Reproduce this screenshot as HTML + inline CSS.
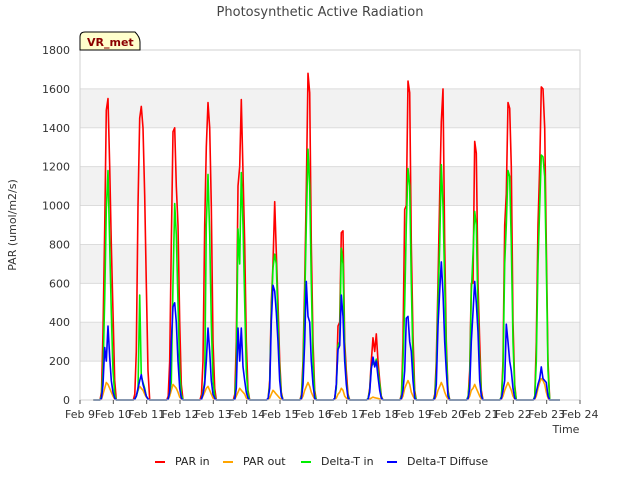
<!DOCTYPE html>
<html><head><meta charset="utf-8"><style>
body{margin:0;background:#fff;font-family:"DejaVu Sans","Liberation Sans",sans-serif;}
svg text{font-family:"DejaVu Sans","Liberation Sans",sans-serif;}
</style></head><body>
<svg id="chart" width="640" height="480" xmlns="http://www.w3.org/2000/svg">
<rect width="640" height="480" fill="#fff"/>
<text x="320" y="16" text-anchor="middle" font-size="13" fill="#444">Photosynthetic Active Radiation</text>
<g id="grid"></g>
<g id="series"></g>
<g id="axes"></g>
<text x="16" y="225" transform="rotate(-90 16 225)" text-anchor="middle" font-size="11" fill="#333">PAR (umol/m2/s)</text>
<text x="566" y="433" text-anchor="middle" font-size="11" fill="#333">Time</text>
<g>
<path d="M80,50 L80,37 Q80,32 85,32 L135,32 Q140,37 140,42 L140,50 Z" fill="#ffffcc" stroke="#000" stroke-width="1"/>
<text x="87" y="46" font-size="11" font-weight="bold" fill="#8b0000">VR_met</text>
</g>
<g id="legend"></g>
</svg>
<script>
const yTicks=[0,200,400,600,800,1000,1200,1400,1600,1800];
const xTickLabels=["Feb 9","Feb 10","Feb 11","Feb 12","Feb 13","Feb 14","Feb 15","Feb 16","Feb 17","Feb 18","Feb 19","Feb 20","Feb 21","Feb 22","Feb 23","Feb 24"];
const sampleOffsets=[0.60,0.645,0.69,0.74,0.79,0.84,0.89,0.94,0.99,1.04,1.09];
const parIn=[
[0,40,350,880,1490,1550,1200,800,450,100,0],
[0,30,250,1000,1450,1510,1400,1050,600,150,0],
[0,20,200,800,1380,1400,1100,900,400,80,0],
[0,30,200,900,1300,1530,1400,1000,300,60,0],
[0,30,300,1100,1200,1545,1170,800,300,50,0],
[0,10,100,500,700,1020,760,500,200,40,0],
[0,30,200,600,1080,1680,1580,800,300,50,0],
[0,10,80,380,400,860,870,300,150,30,0],
[0,10,60,200,320,250,340,200,100,20,0],
[0,30,300,980,1000,1640,1580,800,330,50,0],
[0,30,200,600,1050,1430,1600,800,300,50,0],
[0,20,150,600,600,1330,1270,600,300,50,0],
[0,20,200,900,1060,1530,1500,1200,400,80,0],
[0,20,300,900,1200,1610,1600,1400,800,200,0]];
const parOut=[
[0,5,30,60,90,80,60,40,20,5,0],
[0,5,20,50,70,60,50,30,15,5,0],
[0,5,20,50,80,70,60,40,15,5,0],
[0,5,20,40,60,70,50,30,10,5,0],
[0,5,20,40,60,50,40,30,10,5,0],
[0,5,10,30,50,40,30,20,10,5,0],
[0,5,20,50,70,90,70,40,20,5,0],
[0,5,10,30,40,60,50,20,10,5,0],
[0,2,5,10,15,12,10,8,5,2,0],
[0,5,20,60,80,100,80,40,20,5,0],
[0,5,20,50,70,90,70,40,20,5,0],
[0,5,20,50,60,80,60,40,20,5,0],
[0,5,20,50,70,90,70,50,20,5,0],
[0,5,20,60,90,110,100,80,40,10,0]];
const deltaIn=[
[0,20,150,520,980,1180,800,450,150,30,0],
[0,5,20,50,540,120,90,60,20,5,0],
[0,5,40,90,600,1010,850,500,150,30,0],
[0,5,40,100,900,1160,850,400,100,20,0],
[0,10,150,880,700,1170,900,500,150,30,0],
[0,10,80,450,680,750,700,400,150,30,0],
[0,20,150,500,900,1290,1100,600,200,30,0],
[0,10,60,280,300,780,700,250,100,20,0],
[0,10,50,170,190,180,210,150,80,15,0],
[0,20,200,490,900,1190,1100,600,200,30,0],
[0,20,150,500,800,1210,1000,600,250,40,0],
[0,20,100,550,750,970,900,450,200,30,0],
[0,20,150,700,900,1180,1150,800,300,60,0],
[0,20,200,700,1000,1260,1250,1150,700,150,0]];
const deltaDiff=[
[0,10,80,270,200,380,220,100,40,10,0],
[0,5,20,60,100,130,80,50,20,5,0],
[0,5,40,300,480,500,400,200,60,10,0],
[0,5,30,80,200,370,250,100,30,10,0],
[0,5,60,370,200,370,170,100,40,10,0],
[0,10,60,400,590,560,450,300,100,20,0],
[0,10,80,300,610,430,400,200,80,10,0],
[0,10,80,260,280,540,430,200,80,10,0],
[0,5,40,160,220,170,200,120,50,10,0],
[0,10,50,150,420,430,300,250,100,10,0],
[0,10,80,380,560,710,550,300,150,20,0],
[0,10,60,300,450,610,500,350,100,20,0],
[0,10,50,100,390,300,200,150,60,10,0],
[0,10,40,80,110,170,110,100,90,20,0]];
const X0=80,X1=580,Y0=400,Y1=50;
function xs(t){return X0+t*(X1-X0)/15;}
function ys(v){return Y0-v*(Y0-Y1)/1800;}
const NS="http://www.w3.org/2000/svg";
function mk(tag,attrs,parent){const e=document.createElementNS(NS,tag);for(const k in attrs)e.setAttribute(k,attrs[k]);parent.appendChild(e);return e;}
const grid=document.getElementById('grid'),axes=document.getElementById('axes'),ser=document.getElementById('series'),leg=document.getElementById('legend');
for(let i=0;i<yTicks.length-1;i++){
  if(i%2===1){const b=mk('rect',{x:X0,y:ys(yTicks[i+1]),width:X1-X0,height:ys(yTicks[i])-ys(yTicks[i+1]),fill:'#f2f2f2'},grid);
  
  }
}
yTicks.forEach(v=>{
  const l=mk('line',{x1:X0,x2:X1,y1:ys(v),y2:ys(v),stroke:'#dcdcdc','stroke-width':1},grid);
  
  
  const t=mk('text',{x:X0-10,y:ys(v)+4,'text-anchor':'end','font-size':11,fill:'#333'},axes);
  t.textContent=v;
  
  
});
const fr=mk('rect',{x:X0,y:Y1,width:X1-X0,height:Y0-Y1,fill:'none',stroke:'#d0d0d0'},axes);


xTickLabels.forEach((s,i)=>{
  const tk=mk('line',{x1:xs(i),x2:xs(i),y1:Y0,y2:Y0+4,stroke:'#555'},axes);
  
  
  const t=mk('text',{x:xs(i),y:Y0+18,'text-anchor':'middle','font-size':11,fill:'#333'},axes);
  t.textContent=s;
  
  
});
function drawSeries(data,color,name){
  let pts=[];
  pts.push([xs(0.4),ys(0)]);
  data.forEach((day,d)=>{day.forEach((v,i)=>pts.push([xs(d+sampleOffsets[i]),ys(v)]));});
  pts.push([xs(14.4),ys(0)]);
  const p=mk('polyline',{points:pts.map(p=>p[0].toFixed(1)+','+p[1].toFixed(1)).join(' '),fill:'none',stroke:color,'stroke-width':1.6,'stroke-linejoin':'round'},ser);
  
  
}
drawSeries(parIn,'#ff0000','par-in-line');
drawSeries(parOut,'#ffa500','par-out-line');
drawSeries(deltaIn,'#00ee00','delta-t-in-line');
drawSeries(deltaDiff,'#0000ff','delta-t-diffuse-line');
const legItems=[["PAR in","#ff0000",155],["PAR out","#ffa500",223],["Delta-T in","#00ee00",301],["Delta-T Diffuse","#0000ff",387]];
legItems.forEach(it=>{
  const g=mk('g',{},leg);
  
  
  mk('line',{x1:it[2],x2:it[2]+10,y1:462,y2:462,stroke:it[1],'stroke-width':2},g);
  const t=mk('text',{x:it[2]+20,y:465,'font-size':11,fill:'#222'},g);
  t.textContent=it[0];
});
</script>
</body></html>
